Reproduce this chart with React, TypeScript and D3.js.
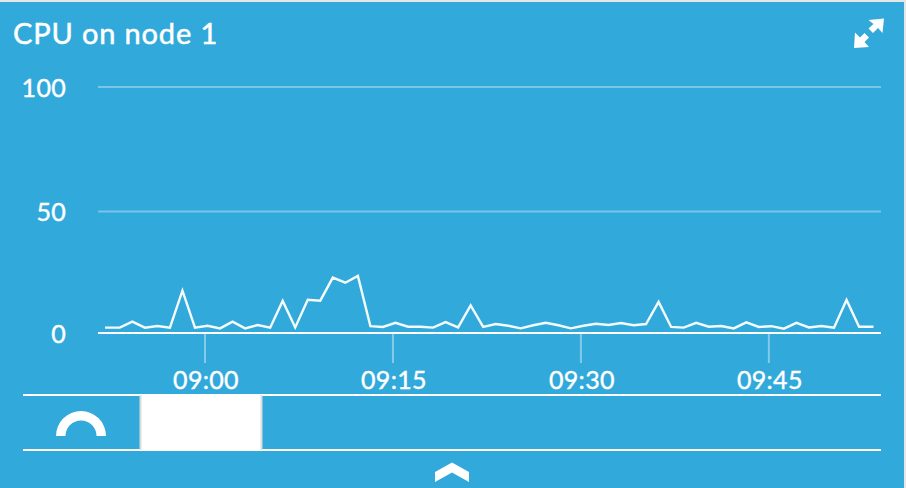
import React from "react";
import * as d3 from "d3";

const title = "CPU on node 1";
const yTicks = [0, 50, 100];
const xTickMinutes = [0, 15, 30, 45];
const xTickLabels = ["09:00", "09:15", "09:30", "09:45"];
// minutes relative to 09:00
const sampleMinutes = [
  -7.98, -6.8, -5.8, -4.8, -3.8, -2.8, -1.8, -0.8, 0.2, 1.2, 2.2, 3.2, 4.2, 5.2, 6.2, 7.2, 8.2, 9.2, 10.2, 11.2, 12.2,
  13.2, 14.2, 15.2, 16.2, 17.2, 18.2, 19.2, 20.2, 21.2, 22.2, 23.2, 24.2, 25.2, 26.2, 27.2, 28.2, 29.2, 30.2, 31.2,
  32.2, 33.2, 34.2, 35.2, 36.2, 37.2, 38.2, 39.2, 40.2, 41.2, 42.2, 43.2, 44.2, 45.2, 46.2, 47.2, 48.2, 49.2, 50.2,
  51.2, 52.2, 53.35,
];
const cpuValues = [
  2.2, 2.2, 4.65, 2.2, 2.9, 2.2, 17.4, 2.2, 3.0, 1.9, 4.65, 1.9, 3.3, 2.2, 13.2, 2.3, 13.7, 13.3, 22.8, 20.7, 23.5,
  2.8, 2.5, 4.2, 2.6, 2.6, 2.2, 4.5, 2.3, 11.4, 2.5, 3.7, 3.0, 1.9, 3.2, 4.2, 3.2, 1.9, 3.0, 3.8, 3.3, 4.1, 3.2,
  3.7, 12.8, 2.5, 2.2, 4.2, 2.6, 2.9, 1.9, 4.4, 2.5, 2.8, 1.8, 4.2, 2.3, 2.9, 2.2, 13.6, 2.6, 2.6,
];

const BG = "#32a9db";
const FONT = "Lato, 'Open Sans', sans-serif";

export default function App() {
  const x = d3.scaleLinear().domain([-8.54, 53.95]).range([98, 881]);
  const y = d3.scaleLinear().domain([0, 50, 100]).range([333, 211.5, 87]);
  const line = d3
    .line<number>()
    .x((_, i) => x(sampleMinutes[i]))
    .y((d) => y(d));
  const gauge = d3.arc()({
    innerRadius: 15.5,
    outerRadius: 25,
    startAngle: -Math.PI / 2,
    endAngle: Math.PI / 2,
  }) as string;

  return (
    <svg
      width={906}
      height={488}
      style={{ position: "fixed", left: 0, top: 0, display: "block", background: BG }}
      fontFamily={FONT}
    >
      <rect x={0} y={0} width={906} height={2} fill="#e6e6e6" />
      <rect x={904} y={0} width={2} height={488} fill="#e6e6e6" />
      <text x={13} y={44} fontSize={29} letterSpacing={0.85} stroke="#fff" strokeWidth={0.5} fill="#fff">
        {title}
      </text>
      <g fill="#fff" stroke="none">
        <path d="M868.5 20 L884 18.5 L882.5 33 L878 28 L873 33 L868.5 28.5 L873.5 24 Z" />
        <path d="M854 48 L855 32.5 L860 37.5 L864.5 33 L869 37.5 L864.5 42 L869 47 Z" />
      </g>
      {yTicks.map((t) => (
        <g key={t}>
          {t > 0 && (
            <line x1={98} x2={881} y1={y(t)} y2={y(t)} stroke="#fff" strokeOpacity={0.35} strokeWidth={2} />
          )}
          <text x={66} y={y(t) + 9.5} textAnchor="end" fontSize={25} letterSpacing={0.3} stroke="#fff" strokeWidth={0.4} fill="#fff">
            {t}
          </text>
        </g>
      ))}
      <line x1={98} x2={881} y1={y(0)} y2={y(0)} stroke="#fff" strokeWidth={2} />
      {xTickMinutes.map((m, i) => (
        <g key={m}>
          <line x1={x(m)} x2={x(m)} y1={y(0)} y2={363} stroke="#fff" strokeOpacity={0.4} strokeWidth={2} />
          <text x={x(m) + 1} y={388.5} textAnchor="middle" fontSize={25} letterSpacing={0.3} stroke="#fff" strokeWidth={0.4} fill="#fff">
            {xTickLabels[i]}
          </text>
        </g>
      ))}
      <path d={line(cpuValues) as string} fill="none" stroke="#fff" strokeWidth={2.4} strokeLinejoin="miter" strokeOpacity={0.95} />
      <line x1={23} x2={881} y1={395} y2={395} stroke="#fff" strokeWidth={2} />
      <line x1={23} x2={881} y1={450} y2={450} stroke="#fff" strokeWidth={2} />
      <rect x={140} y={394} width={122} height={57} fill="#fff" />
      <rect x={139.5} y={395} width={2} height={55} fill="#dcdcdc" />
      <rect x={260.5} y={395} width={2} height={55} fill="#dcdcdc" />
      <path d={gauge} transform="translate(81,436)" fill="#fff" />
      <path d="M435 472 L452 462.5 L469 472 L469 482 L452 472.5 L435 482 Z" fill="#fff" />
    </svg>
  );
}
